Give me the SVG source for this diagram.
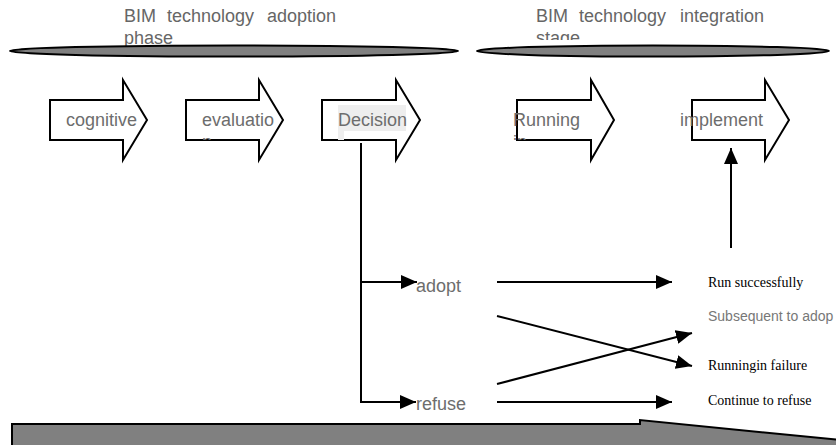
<svg xmlns="http://www.w3.org/2000/svg" width="836" height="445" viewBox="0 0 836 445">
  <defs>
    <marker id="head" markerUnits="userSpaceOnUse" markerWidth="16" markerHeight="14" refX="16" refY="7" orient="auto">
      <path d="M0,0 L16,7 L0,14 Z" fill="#000"/>
    </marker>
    <clipPath id="clipStage"><rect x="0" y="0" width="836" height="40"/></clipPath>
    <clipPath id="clipBody"><rect x="0" y="0" width="836" height="140"/></clipPath>
  </defs>
  <style>
    .band { fill: #808080; stroke: #000; stroke-width: 2; }
    .block { fill: #fff; stroke: #000; stroke-width: 2; }
    .title { font-family: "Liberation Sans", Arial, sans-serif; font-size: 18px; fill: #666; }
    .label { font-family: "Liberation Sans", Arial, sans-serif; font-size: 18px; fill: #6d6d6d; }
    .serif { font-family: "Liberation Serif", "Times New Roman", serif; font-size: 14px; fill: #000; }
    .note { font-family: "Liberation Sans", Arial, sans-serif; font-size: 14px; fill: #777; }
    .conn { fill: none; stroke: #000; stroke-width: 2; }
  </style>

  <!-- phase headings -->
  <g id="phase-adoption">
    <text class="title" y="22"><tspan x="124">BIM</tspan><tspan x="167">technology</tspan><tspan x="267">adoption</tspan></text>
    <text class="title" x="124" y="44">phase</text>
    <ellipse class="band" cx="234" cy="51" rx="224" ry="5.5"/>
  </g>
  <g id="phase-integration">
    <text class="title" y="22"><tspan x="536">BIM</tspan><tspan x="579">technology</tspan><tspan x="680">integration</tspan></text>
    <text class="title" x="536" y="44" clip-path="url(#clipStage)">stage</text>
    <ellipse class="band" cx="653" cy="51" rx="176" ry="5.5"/>
  </g>

  <!-- process steps -->
  <g id="step-cognitive">
    <path class="block" d="M50,100 H123 V80 L147,120 L123,160 V140 H50 Z"/>
    <text class="label" x="66" y="126">cognitive</text>
  </g>
  <g id="step-evaluation">
    <path class="block" d="M186,100 H259 V80 L283,120 L259,160 V140 H186 Z"/>
    <text class="label" x="202" y="126">evaluatio</text>
    <text class="label" x="202" y="148" clip-path="url(#clipBody)">n</text>
  </g>
  <g id="step-decision">
    <path class="block" d="M322,100 H396 V80 L420,120 L396,160 V140 H322 Z"/>
    <rect x="338" y="105" width="68" height="26" fill="#eeeeee"/>
    <rect x="338" y="131" width="6" height="9" fill="#eeeeee"/>
    <text class="label" x="338" y="126">Decision</text>
  </g>
  <g id="step-running">
    <path class="block" d="M517,100 H591 V80 L614,120 L591,160 V140 H517 Z"/>
    <text class="label" x="513" y="126">Running</text>
    <text class="label" x="513" y="148" clip-path="url(#clipBody)">in</text>
  </g>
  <g id="step-implement">
    <path class="block" d="M692,100 H765 V80 L789,120 L765,160 V140 H692 Z"/>
    <text class="label" x="680" y="126">implement</text>
  </g>

  <!-- outcomes -->
  <g id="opt-adopt"><text class="label" x="416" y="292">adopt</text></g>
  <g id="opt-refuse"><text class="label" x="416" y="410">refuse</text></g>
  <g id="res-success"><text class="serif" x="708" y="287">Run successfully</text></g>
  <g id="res-subsequent"><text class="note" x="708" y="321">Subsequent to adop</text></g>
  <g id="res-failure"><text class="serif" x="708" y="370">Runningin failure</text></g>
  <g id="res-continue"><text class="serif" x="708" y="405">Continue to refuse</text></g>

  <!-- connectors -->
  <g id="connectors">
    <polyline class="conn" points="361,143 361,402 416,402" marker-end="url(#head)"/>
    <line class="conn" x1="361" y1="282" x2="417" y2="282" marker-end="url(#head)"/>
    <line class="conn" x1="497" y1="282" x2="672" y2="282" marker-end="url(#head)"/>
    <line class="conn" x1="497" y1="316" x2="692" y2="366" marker-end="url(#head)"/>
    <line class="conn" x1="497" y1="384" x2="692" y2="333" marker-end="url(#head)"/>
    <line class="conn" x1="497" y1="402" x2="672" y2="402" marker-end="url(#head)"/>
    <line class="conn" x1="731" y1="248" x2="731" y2="148" marker-end="url(#head)"/>
  </g>

  <!-- timeline arrow -->
  <g id="timeline">
    <path class="band" d="M12,424 H640 V420 L860,442 L860,452 H12 Z"/>
  </g>
</svg>
